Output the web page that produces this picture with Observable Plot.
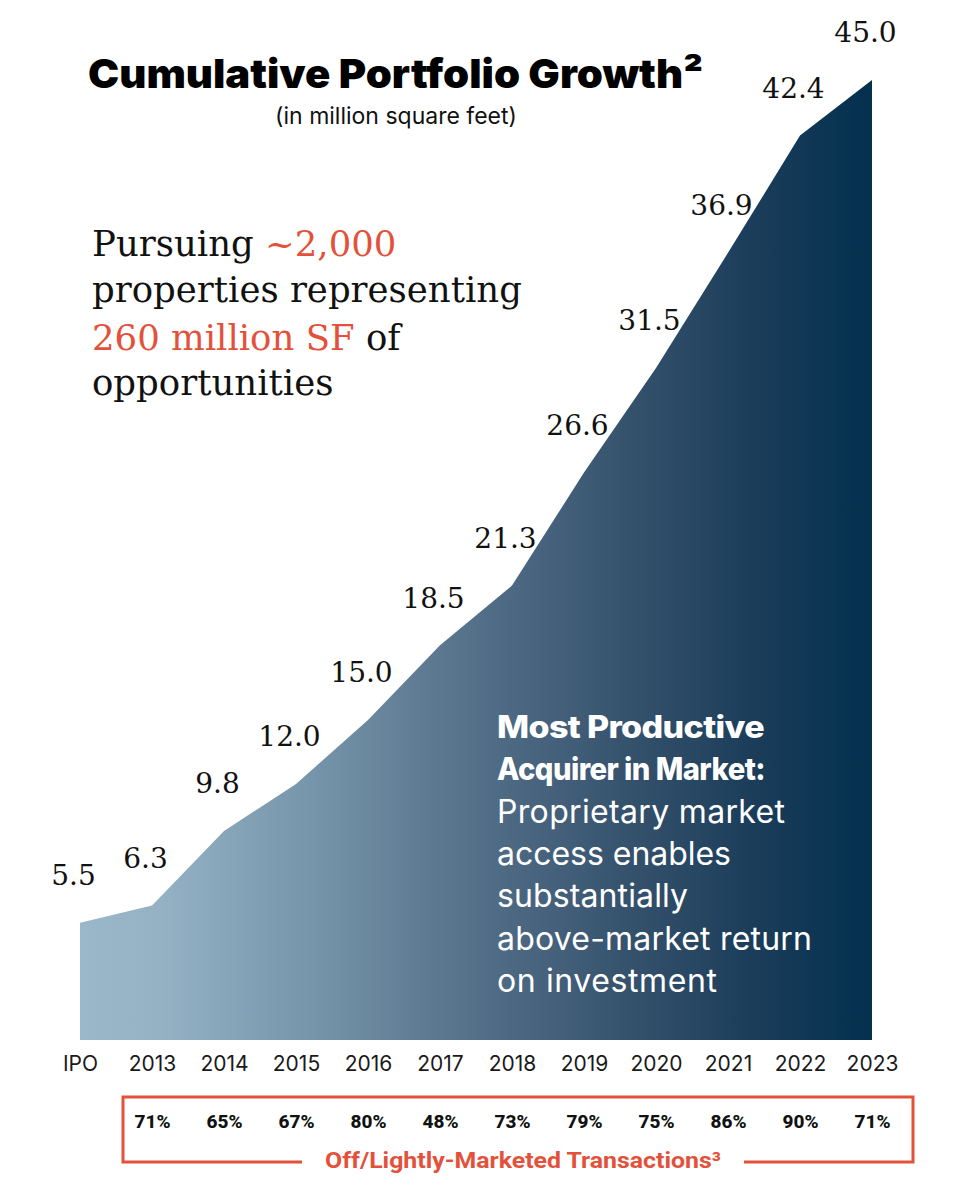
<!DOCTYPE html>
<html>
<head>
<meta charset="utf-8">
<script src="https://cdn.jsdelivr.net/npm/d3@7"></script>
<script src="https://cdn.jsdelivr.net/npm/@observablehq/plot@0.6"></script>
<style>
  html, body { margin: 0; padding: 0; background: #ffffff; }
  #wrap { position: relative; width: 962px; height: 1194px; overflow: hidden; }
</style>
</head>
<body>
<div id="wrap"></div>
<script>
// ---- Data ----
const categories = ["IPO", "2013", "2014", "2015", "2016", "2017", "2018", "2019", "2020", "2021", "2022", "2023"];
const portfolioMSF = [5.5, 6.3, 9.8, 12.0, 15.0, 18.5, 21.3, 26.6, 31.5, 36.9, 42.4, 45.0];
const offMarketYears = ["2013", "2014", "2015", "2016", "2017", "2018", "2019", "2020", "2021", "2022", "2023"];
const offMarketPct = [71, 65, 67, 80, 48, 73, 79, 75, 86, 90, 71];

const series = categories.map((c, i) => ({year: c, value: portfolioMSF[i]}));
const offMarket = offMarketYears.map((y, i) => ({year: y, pct: offMarketPct[i]}));

const ORANGE = "#e4513b";
const W = 962, H = 1194;

const plot = Plot.plot({
  width: W,
  height: H,
  marginTop: 80,
  marginBottom: 154,
  marginLeft: 79,
  marginRight: 90,
  style: {background: "transparent", color: "#1a1a1a", fontFamily: "Inter, sans-serif", overflow: "visible"},
  x: {type: "point", domain: categories, padding: 0, label: null},
  y: {domain: [0, 45], label: null, axis: null},
  marks: [
    Plot.areaY(series, {x: "year", y: "value", fill: "url(#growthGrad)", curve: "linear"}),
    Plot.text(series, {
      x: "year", y: "value", text: d => d.value.toFixed(1),
      dx: -7, dy: -47, fontSize: 28, fontFamily: "DejaVu Serif", fill: "#111"
    }),
    Plot.axisX({tickSize: 0, tickPadding: 16, fontSize: 21, label: null, fill: "#1a1a1a"}),
    Plot.text(offMarket, {
      x: "year", frameAnchor: "bottom", dy: 87,
      text: d => d.pct + "%", fontSize: 19, fontWeight: 800, fontFamily: "Roboto, sans-serif", fill: "#111"
    })
  ]
});

document.getElementById("wrap").appendChild(plot);

const svg = d3.select(plot);
const xs = plot.scale("x");
const x0 = xs.apply(categories[0]), x1 = xs.apply(categories[categories.length - 1]);

// gradient
const defs = svg.insert("defs", ":first-child");
const grad = defs.append("linearGradient")
  .attr("id", "growthGrad").attr("gradientUnits", "userSpaceOnUse")
  .attr("x1", x0).attr("x2", x1).attr("y1", 0).attr("y2", 0);
[[0, "#9bb8ca"], [0.1, "#95b2c5"], [0.3, "#7593a9"], [0.5, "#546f88"], [0.7, "#34516c"], [0.85, "#1b3d5a"], [1, "#02304e"]]
  .forEach(([o, c]) => grad.append("stop").attr("offset", o).attr("stop-color", c));

const ann = svg.append("g").attr("text-anchor", "start");

// Title and subtitle
ann.append("text").attr("x", 88).attr("y", 88)
  .attr("font-family", "Inter, sans-serif").attr("font-weight", 900).attr("font-size", 40)
  .attr("fill", "#000").attr("textLength", 615).attr("lengthAdjust", "spacingAndGlyphs")
  .text("Cumulative Portfolio Growth²");
ann.append("text").attr("x", 396).attr("y", 124).attr("text-anchor", "middle")
  .attr("font-family", "Inter, sans-serif").attr("font-weight", 400).attr("font-size", 23)
  .attr("fill", "#111").text("(in million square feet)");

// Left annotation
const leftLines = [
  [["Pursuing ", "#111"], ["~2,000", ORANGE]],
  [["properties representing", "#111"]],
  [["260 million SF", ORANGE], [" of", "#111"]],
  [["opportunities", "#111"]]
];
const leftBase = [256, 302, 350, 395];
leftLines.forEach((parts, i) => {
  const t = ann.append("text").attr("x", 92).attr("y", leftBase[i])
    .attr("font-family", "DejaVu Serif, serif").attr("font-size", 35.5);
  parts.forEach(([s, c]) => t.append("tspan").attr("fill", c).text(s));
});

// Right annotation (white on area)
const rightLines = [
  ["Most Productive", 800, 267], ["Acquirer in Market:", 800, 268], ["Proprietary market", 400, 288],
  ["access enables", 400, 234], ["substantially", 400, 191], ["above-market return", 400, 315], ["on investment", 400, 220]
];
rightLines.forEach(([s, w, len], i) => {
  const bold = w > 500;
  ann.append("text").attr("x", 497).attr("y", 738 + i * 42.3)
    .attr("font-family", "Inter, sans-serif").attr("font-weight", w).attr("font-size", bold ? 31 : 32)
    .attr("letter-spacing", bold ? -0.6 : 0)
    .attr("textLength", len).attr("lengthAdjust", bold ? "spacingAndGlyphs" : "spacing")
    .attr("fill", "#ffffff").text(s);
});

// Box around off-market percentages
ann.append("rect").attr("x", 123).attr("y", 1097).attr("width", 790).attr("height", 65)
  .attr("fill", "none").attr("stroke", ORANGE).attr("stroke-width", 3);
ann.append("rect").attr("x", 302).attr("y", 1150).attr("width", 442).attr("height", 24).attr("fill", "#fff");
ann.append("text").attr("x", 523).attr("y", 1168).attr("text-anchor", "middle")
  .attr("font-family", "Roboto, sans-serif").attr("font-weight", 700).attr("font-size", 22)
  .attr("fill", ORANGE).attr("textLength", 396).attr("lengthAdjust", "spacingAndGlyphs")
  .text("Off/Lightly-Marketed Transactions³");
</script>
</body>
</html>
